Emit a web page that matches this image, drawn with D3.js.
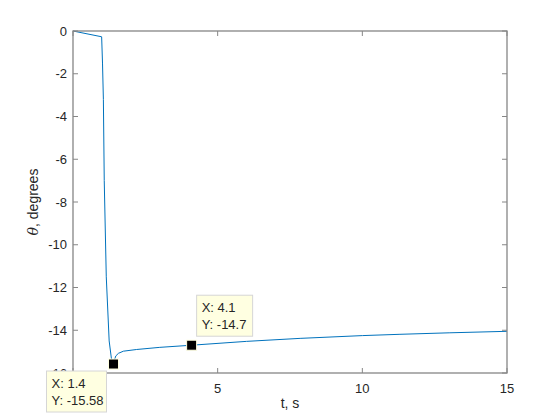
<!DOCTYPE html>
<html>
<head>
<meta charset="utf-8">
<script src="https://cdn.jsdelivr.net/npm/d3@7"></script>
<style>
  body { margin: 0; background: #fff; }
  svg { display: block; font-family: "Liberation Sans", Arial, sans-serif; }
</style>
</head>
<body>
<svg id="chart" width="560" height="420"></svg>
<script>
// response of theta over time
const tValues = [0, 0.99, 1.02, 1.05, 1.08, 1.15, 1.25, 1.33, 1.40, 1.43, 1.48, 1.57, 1.74, 2.2, 3.0, 4.1, 6.0, 7.85, 10.0, 11.3, 13.0, 15.0];
const thetaValues = [0, -0.27, -1.5, -3.2, -7.0, -11.5, -14.5, -15.35, -15.58, -15.4, -15.2, -15.08, -14.98, -14.9, -14.8, -14.7, -14.52, -14.38, -14.25, -14.19, -14.12, -14.05];

const xTicks = [0, 5, 10, 15];
const yTicks = [-16, -14, -12, -10, -8, -6, -4, -2, 0];

// data tips
const tips = [
  { x: 1.4, y: -15.58, lines: ["X: 1.4", "Y: -15.58"] },
  { x: 4.1, y: -14.7, lines: ["X: 4.1", "Y: -14.7"] }
];

const margin = { top: 31, right: 53, bottom: 47, left: 73 };
const svg = d3.select("#chart");
const width = 560 - margin.left - margin.right;
const height = 420 - margin.top - margin.bottom;

const x = d3.scaleLinear().domain([0, 15]).range([0, width]);
const y = d3.scaleLinear().domain([-16, 0]).range([height, 0]);

const plot = svg.append("g").attr("transform", `translate(${margin.left},${margin.top})`);

const axisColor = "#868686";
const textColor = "#262626";

// line
const data = tValues.map((t, i) => [t, thetaValues[i]]);
plot.append("path")
  .datum(data)
  .attr("fill", "none")
  .attr("stroke", "#0072BD")
  .attr("stroke-width", 1)
  .attr("d", d3.line().x(d => x(d[0])).y(d => y(d[1])));

// box
plot.append("rect")
  .attr("width", width).attr("height", height)
  .attr("fill", "none").attr("stroke", axisColor).attr("stroke-width", 1.3);

// ticks inward, on all four sides
const tickLen = 5;
const tg = plot.append("g").attr("stroke", axisColor).attr("stroke-width", 1);
xTicks.forEach(v => {
  tg.append("line").attr("x1", x(v)).attr("x2", x(v)).attr("y1", height).attr("y2", height - tickLen);
  tg.append("line").attr("x1", x(v)).attr("x2", x(v)).attr("y1", 0).attr("y2", tickLen);
});
yTicks.forEach(v => {
  tg.append("line").attr("x1", 0).attr("x2", tickLen).attr("y1", y(v)).attr("y2", y(v));
  tg.append("line").attr("x1", width).attr("x2", width - tickLen).attr("y1", y(v)).attr("y2", y(v));
});

plot.append("g").selectAll("text")
  .data(xTicks).enter().append("text")
  .attr("x", d => x(d)).attr("y", height + 20)
  .attr("text-anchor", "middle")
  .attr("font-size", 13).attr("fill", textColor)
  .text(d => d);

plot.append("g").selectAll("text")
  .data(yTicks).enter().append("text")
  .attr("x", -6).attr("y", d => y(d) + 4.5)
  .attr("text-anchor", "end")
  .attr("font-size", 13).attr("fill", textColor)
  .text(d => d);

// axis titles
plot.append("text")
  .attr("x", width / 2).attr("y", height + 35)
  .attr("text-anchor", "middle")
  .attr("font-size", 14).attr("fill", textColor)
  .text("t, s");

const yl = plot.append("text")
  .attr("transform", `translate(-35,${height / 2}) rotate(-90)`)
  .attr("text-anchor", "middle")
  .attr("font-size", 14).attr("fill", textColor);
yl.append("tspan").attr("font-family", "'DejaVu Serif', serif").attr("font-style", "italic").text("θ");
yl.append("tspan").text(", degrees");

// data tip markers and boxes
const boxPos = [
  { dx: -67, dy: 7, w: 60, h: 41 },
  { dx: 5, dy: -50, w: 56, h: 41 }
];
tips.forEach((tip, i) => {
  const px = x(tip.x), py = y(tip.y);
  const b = boxPos[i];
  const g = plot.append("g");
  g.append("rect")
    .attr("x", px + b.dx).attr("y", py + b.dy)
    .attr("width", b.w).attr("height", b.h)
    .attr("fill", "#ffffe1").attr("stroke", "#d6d6d6").attr("stroke-width", 1);
  tip.lines.forEach((s, j) => {
    g.append("text")
      .attr("x", px + b.dx + 5).attr("y", py + b.dy + 17 + j * 17)
      .attr("font-size", 13).attr("fill", textColor)
      .text(s);
  });
  g.append("rect")
    .attr("x", px - 5).attr("y", py - 5)
    .attr("width", 10).attr("height", 10)
    .attr("fill", "#000").attr("stroke", "#ffffe1").attr("stroke-width", 1);
});
</script>
</body>
</html>
